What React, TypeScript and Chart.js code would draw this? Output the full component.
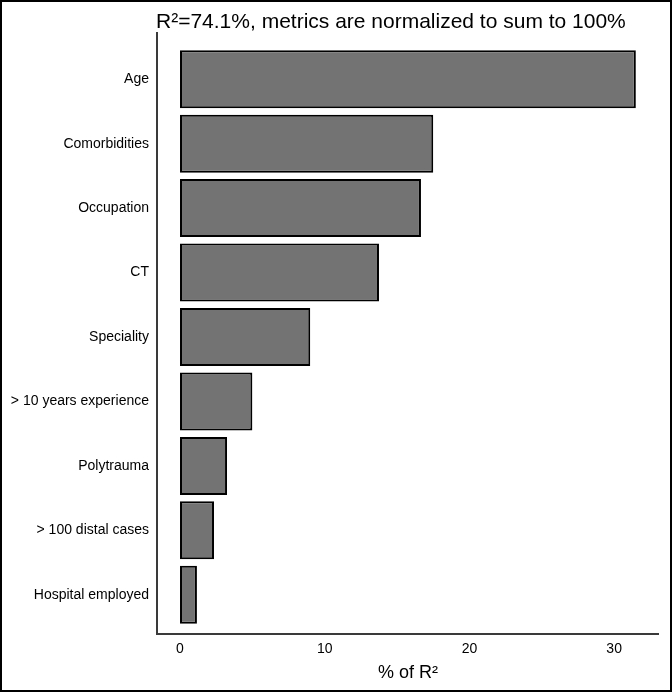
import React, { useEffect, useRef } from "react";
import { Chart, registerables } from "chart.js";

Chart.register(...registerables);

const categories = [
  "Age",
  "Comorbidities",
  "Occupation",
  "CT",
  "Speciality",
  "> 10 years experience",
  "Polytrauma",
  "> 100 distal cases",
  "Hospital employed",
];
const values = [31.5, 17.5, 16.65, 13.75, 9.0, 5.0, 3.25, 2.35, 1.17];
const xTicks = [0, 10, 20, 30];
const titleText = "R\u00b2=74.1%, metrics are normalized to sum to 100%";
const xTitle = "% of R\u00b2";

const FONT = "'Liberation Sans', Arial, sans-serif";

const overlay = {
  id: "overlay",
  afterDraw(chart: any) {
    const { ctx, chartArea } = chart;
    ctx.save();
    ctx.strokeStyle = "#3a3a3a";
    ctx.lineWidth = 2;
    ctx.beginPath();
    ctx.moveTo(chartArea.left, chartArea.top - 15);
    ctx.lineTo(chartArea.left, chartArea.bottom + 7);
    ctx.lineTo(chartArea.right, chartArea.bottom + 7);
    ctx.stroke();
    ctx.fillStyle = "#000";
    ctx.font = "21px " + FONT;
    ctx.textAlign = "left";
    ctx.textBaseline = "alphabetic";
    ctx.fillText(titleText, chartArea.left - 1, 26);
    ctx.restore();
  },
};

export default function App() {
  const ref = useRef<HTMLCanvasElement | null>(null);
  useEffect(() => {
    if (!ref.current) return;
    const chart = new Chart(ref.current, {
      type: "bar",
      data: {
        labels: categories,
        datasets: [
          {
            data: values,
            backgroundColor: "#737373",
            borderColor: "#000",
            borderWidth: 2,
            borderSkipped: false,
            barPercentage: 0.9,
            categoryPercentage: 1,
          },
        ],
      },
      options: {
        indexAxis: "y",
        animation: false,
        responsive: false,
        maintainAspectRatio: false,
        layout: { padding: { top: 45, right: 11, bottom: 0, left: 0 } },
        plugins: {
          legend: { display: false },
          tooltip: { enabled: false },
          title: { display: false },
        },
        scales: {
          x: {
            type: "linear",
            min: -1.59,
            max: 33.1,
            grid: { display: false, drawTicks: false },
            border: { display: false },
            afterBuildTicks: (scale: any) => {
              scale.ticks = xTicks.map((v) => ({ value: v }));
            },
            afterFit: (scale: any) => {
              scale.height = 63;
            },
            ticks: {
              padding: 14,
              color: "#000",
              font: { family: FONT, size: 14 },
              maxRotation: 0,
            },
            title: {
              display: true,
              text: xTitle,
              color: "#000",
              font: { family: FONT, size: 18 },
              padding: { top: 0, bottom: 6 },
            },
          },
          y: {
            grid: { display: false, drawTicks: false },
            border: { display: false },
            afterFit: (scale: any) => {
              scale.width = 155;
            },
            ticks: {
              padding: 8,
              color: "#000",
              font: { family: FONT, size: 14 },
            },
          },
        },
      },
      plugins: [overlay],
    } as any);
    return () => chart.destroy();
  }, []);
  return (
    <div
      style={{
        position: "fixed",
        left: 0,
        top: 0,
        width: 672,
        height: 692,
        boxSizing: "border-box",
        border: "2px solid #000",
        background: "#fff",
      }}
    >
      <canvas ref={ref} width={668} height={688} style={{ display: "block" }} />
    </div>
  );
}
